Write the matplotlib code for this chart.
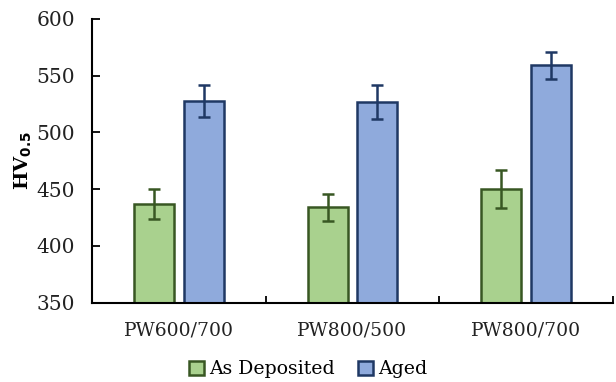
import matplotlib
matplotlib.use("Agg")
import matplotlib.pyplot as plt
import numpy as np

categories = ["PW600/700", "PW800/500", "PW800/700"]
as_deposited = [437, 434, 450]
as_deposited_err = [13, 12, 17]
aged = [528, 527, 559]
aged_err = [14, 15, 12]

green_fill, green_edge = "#A9D18E", "#385723"
blue_fill, blue_edge = "#8FAADC", "#1F3864"

plt.rcParams["font.family"] = ["DejaVu Serif"]

fig = plt.figure(figsize=(6.16, 3.82), dpi=100)
ax = fig.add_axes([92 / 616, 1 - 302.5 / 382, (613 - 92) / 616, (302.5 - 19) / 382])

x = np.arange(len(categories)) + 0.5
w = 0.23
gap = 0.057
off = (w + gap) / 2

ax.bar(x - off, as_deposited, w, color=green_fill, edgecolor=green_edge,
       linewidth=1.8, label="As Deposited", zorder=2)
ax.bar(x + off, aged, w, color=blue_fill, edgecolor=blue_edge,
       linewidth=1.8, label="Aged", zorder=2)
ax.errorbar(x - off, as_deposited, yerr=as_deposited_err, fmt="none",
            ecolor=green_edge, elinewidth=1.8, capsize=4, capthick=1.8, zorder=3)
ax.errorbar(x + off, aged, yerr=aged_err, fmt="none",
            ecolor=blue_edge, elinewidth=1.8, capsize=4, capthick=1.8, zorder=3)

ax.set_xlim(0, 3)
ax.set_ylim(350, 600)
ax.set_yticks(np.arange(350, 601, 50))
ax.set_xticks([1, 2, 3])
ax.set_xticklabels([])
ax.set_xticks(x, minor=True)
ax.set_xticklabels(categories, minor=True)
ax.tick_params(axis="x", which="minor", length=0, pad=14, labelsize=13.5, colors="#222222")
ax.tick_params(axis="x", which="major", direction="in", length=5, width=1.3)
ax.tick_params(axis="y", direction="in", length=6, width=1.3, labelsize=14.5,
               pad=12, colors="black", labelcolor="#222222")

for s in ["top", "right"]:
    ax.spines[s].set_visible(False)
for s in ["left", "bottom"]:
    ax.spines[s].set_linewidth(1.5)

ax.set_ylabel("HV$_{\\mathbf{0.5}}$", fontsize=14, fontweight="bold", labelpad=2)

leg = fig.legend(loc="lower center", bbox_to_anchor=(0.5, -0.035), ncol=2,
                 frameon=False, fontsize=13.6, handlelength=0.8, handleheight=0.8,
                 handletextpad=0.3, columnspacing=1.2)

fig.savefig("out.png", dpi=100)
